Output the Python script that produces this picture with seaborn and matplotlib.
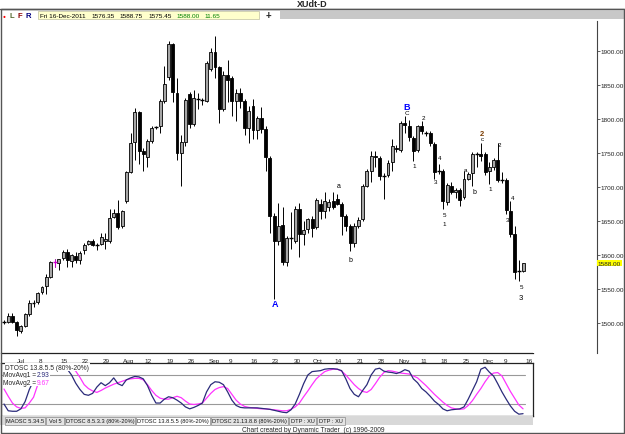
import numpy as np
import pandas as pd
import matplotlib
matplotlib.use('Agg')
import matplotlib.pyplot as plt
import seaborn as sns
from matplotlib.patches import Rectangle
from matplotlib.lines import Line2D

# DATA - daily OHLC, XU (late Jun .. 16 Dec 2011)
opens = [1502, 1502, 1511, 1502, 1488, 1496, 1513, 1530, 1531, 1546, 1554, 1568, 1589, 1588, 1595, 1605,
         1591, 1599, 1593, 1608, 1616, 1621, 1615, 1616, 1620, 1620, 1656, 1662, 1642, 1679, 1722, 1766,
         1810, 1753, 1744, 1767, 1788, 1789, 1826, 1862, 1910, 1838, 1750, 1766, 1837, 1792, 1829, 1828,
         1827, 1874, 1898, 1876, 1815, 1865, 1861, 1826, 1838, 1827, 1787, 1819, 1784, 1802, 1785, 1742,
         1658, 1620, 1644, 1589, 1625, 1620, 1668, 1631, 1638, 1653, 1641, 1675, 1664, 1670, 1680, 1683,
         1675, 1658, 1643, 1618, 1643, 1653, 1702, 1724, 1746, 1742, 1716, 1717, 1737, 1758, 1755, 1794,
         1790, 1772, 1754, 1790, 1780, 1779, 1763, 1724, 1724, 1678, 1702, 1692, 1696, 1685, 1712, 1721,
         1748, 1748, 1749, 1723, 1729, 1740, 1711, 1711, 1665, 1631, 1576, 1576.35]
highs = [1505, 1514, 1514, 1503, 1497, 1515, 1534, 1534, 1546, 1555, 1572, 1591, 1594, 1594, 1608, 1609,
         1602, 1604, 1606, 1618, 1622, 1624, 1618, 1633, 1632, 1668, 1668, 1681, 1666, 1724, 1780, 1816,
         1812, 1758, 1771, 1790, 1790, 1829, 1878, 1915, 1912, 1860, 1776, 1831, 1840, 1843, 1838, 1831,
         1885, 1904, 1922, 1878, 1870, 1887, 1863, 1844, 1846, 1829, 1819, 1830, 1804, 1817, 1790, 1746,
         1662, 1677, 1670, 1628, 1663, 1672, 1677, 1650, 1655, 1658, 1684, 1682, 1692, 1682, 1692, 1690,
         1678, 1660, 1645, 1647, 1656, 1705, 1727, 1753, 1753, 1745, 1720, 1740, 1770, 1762, 1797, 1805,
         1798, 1775, 1791, 1797, 1782, 1782, 1766, 1734, 1726, 1706, 1707, 1698, 1698, 1724, 1722, 1751,
         1751, 1764, 1752, 1737, 1742, 1764, 1722, 1713, 1680, 1643, 1593, 1588.75]
lows = [1499, 1500, 1500, 1481, 1486, 1494, 1511, 1524, 1528, 1543, 1543, 1566, 1582, 1578, 1593, 1583,
        1583, 1588, 1587, 1602, 1614, 1613, 1608, 1614, 1609, 1618, 1654, 1638, 1640, 1677, 1720, 1739,
        1734, 1724, 1729, 1765, 1785, 1780, 1824, 1858, 1825, 1740, 1702, 1760, 1787, 1790, 1814, 1820,
        1825, 1870, 1861, 1794, 1812, 1825, 1804, 1797, 1816, 1776, 1764, 1770, 1770, 1780, 1723, 1633,
        1535, 1615, 1585, 1584, 1609, 1618, 1597, 1614, 1633, 1627, 1638, 1653, 1655, 1665, 1668, 1673,
        1630, 1636, 1606, 1612, 1640, 1650, 1700, 1707, 1730, 1710, 1682, 1714, 1724, 1752, 1752, 1780,
        1767, 1738, 1752, 1778, 1775, 1760, 1712, 1719, 1668, 1673, 1690, 1684, 1672, 1683, 1710, 1702,
        1730, 1738, 1718, 1705, 1725, 1708, 1706, 1660, 1627, 1565, 1562, 1575.45]
closes = [1502, 1511, 1502, 1489, 1496, 1513, 1529, 1530, 1544, 1553, 1567, 1589, 1589, 1594, 1605, 1592,
          1600, 1593, 1603, 1615, 1621, 1615, 1615, 1627, 1624, 1654, 1662, 1641, 1664, 1722, 1764, 1810,
          1753, 1748, 1767, 1787, 1788, 1826, 1852, 1910, 1839, 1750, 1766, 1828, 1792, 1831, 1829, 1828,
          1883, 1898, 1877, 1815, 1865, 1858, 1827, 1838, 1827, 1787, 1812, 1784, 1802, 1786, 1744, 1658,
          1620, 1642, 1589, 1625, 1625, 1668, 1631, 1637, 1653, 1640, 1681, 1664, 1680, 1678, 1670, 1675,
          1658, 1643, 1618, 1643, 1651, 1702, 1724, 1746, 1744, 1716, 1716, 1736, 1760, 1756, 1794, 1791,
          1773, 1753, 1789, 1782, 1780, 1764, 1722, 1724, 1680, 1703, 1692, 1696, 1681, 1712, 1719, 1749,
          1748, 1746, 1722, 1729, 1740, 1711, 1711, 1666, 1631, 1575, 1577, 1588.00]
marked_bar = 12  # magenta cross in the chart

# DTOSC 13.8.5.5 oscillator (fast line / slow line), in %
dtosc_fast = [20, 6, 5, 5, 10, 25, 50, 68, 82, 92, 98, 100, 102, 103, 102, 92, 80, 63, 50, 40, 38, 42, 55, 64,
              58, 64, 74, 62, 58, 70, 74, 77, 76, 72, 58, 38, 22, 22, 30, 35, 33, 28, 22, 14, 10, 13, 17, 22,
              45, 60, 66, 65, 60, 45, 28, 17, 13, 12, 12, 12, 12, 11, 10, 9, 7, 5, 3, 2, 8, 20, 40, 62,
              80, 87, 88, 89, 92, 93, 93, 92, 89, 72, 52, 40, 35, 48, 60, 80, 92, 94, 88, 86, 85, 83, 86, 91,
              88, 72, 64, 52, 45, 36, 26, 19, 10, 6, 8, 9, 10, 14, 30, 48, 66, 92, 96, 86, 78, 62, 45, 30,
              16, 5, -1, 0]
dtosc_slow = [51, 36, 22, 14, 11, 12, 22, 34, 60, 75, 85, 93, 98, 100, 100, 98, 94, 88, 75, 60, 52, 47, 44, 48,
              53, 57, 61, 64, 67, 70, 72, 73, 73, 70, 60, 48, 38, 32, 30, 30, 33, 36, 33, 26, 20, 19, 20, 22,
              32, 42, 50, 54, 56, 52, 40, 28, 20, 15, 13, 12, 11, 10, 10, 9, 8, 7, 6, 6, 9, 14, 22, 35,
              47, 60, 72, 80, 87, 90, 92, 92, 88, 80, 70, 60, 52, 46, 44, 50, 62, 75, 85, 89, 88, 86, 84, 83,
              82, 78, 74, 66, 58, 49, 40, 32, 24, 17, 12, 10, 9, 10, 17, 27, 40, 52, 66, 78, 84, 85, 78, 62,
              46, 32, 18, 10]

# x axis ticks (bar positions) and labels
tick_pos = [3.1, 8.3, 13.3, 18.5, 23.5, 28.2, 33.2, 38.4, 43.6, 48.6, 53.3, 58.5, 63.5, 68.7, 73.2, 78.4,
            83.6, 88.6, 93.4, 98.6, 103.5, 108.8, 113.3, 118.5, 123.5]
tick_labels = ['Jul', '8', '15', '22', '29', 'Aug', '12', '19', '26', 'Sep', '9', '16', '23', '30', 'Oct',
               '14', '21', '28', 'Nov', '11', '18', '25', 'Dec', '9', '16']
price_ticks = [1500, 1550, 1600, 1650, 1700, 1750, 1800, 1850, 1900]

# wave labels: (bar, price, text, colour, size, bold)
wave_labels = [
    (64.2, 1528, 'A', '#0000ff', 6.5, True),
    (95.3, 1819, 'B', '#0000ff', 6.5, True),
    (95.4, 1810, 'C', '#000000', 4.5, False),
    (79.4, 1702, 'a', '#000000', 5, False),
    (82.2, 1593, 'b', '#000000', 5, False),
    (97.2, 1732, '1', '#000000', 4.5, False),
    (99.3, 1802, '2', '#000000', 4.5, False),
    (102.3, 1708, '3', '#000000', 4.5, False),
    (103.3, 1743, '4', '#000000', 4.5, False),
    (104.3, 1659, '5', '#000000', 4.5, False),
    (104.3, 1647, '1', '#000000', 4.5, False),
    (109.4, 1726, 'a', '#000000', 4.5, False),
    (111.4, 1694, 'b', '#000000', 5, False),
    (113.3, 1779, '2', '#7a3b00', 5.5, True),
    (113.3, 1771, 'c', '#000000', 4.5, False),
    (115.3, 1698, '1', '#000000', 4.5, False),
    (117.4, 1762, '2', '#000000', 4.5, False),
    (119.4, 1652, '3', '#000000', 4.5, False),
    (120.5, 1684, '4', '#000000', 4.5, False),
    (122.5, 1554, '5', '#000000', 4.5, False),
    (122.5, 1538, '3', '#000000', 5.5, False),
]

tabs = ['MAOSC 5.34.5', 'Vol 5', 'DTOSC 8.5.3.3 (80%-20%)', 'DTOSC 13.8.5.5 (80%-20%)',
        'DTOSC 21.13.8.8 (80%-20%)', 'DTP : XU', 'DTP : XU']
tab_edges = [5, 46, 65, 136, 211, 289, 317, 346]

# LAYOUT (pixels)
W, H = 625, 435
BAR0, BAR_PX = 4, 4.22
FONT = 'Liberation Sans'

sns.set_style('white')
plt.rcParams['font.family'] = [FONT, 'DejaVu Sans']

fig = plt.figure(figsize=(W / 100, H / 100), dpi=100)


def fx(x):
    return x / W


def fy(y):
    return 1 - y / H


def px_axes(x0, y0, x1, y1):
    return fig.add_axes([fx(x0), fy(y1), (x1 - x0) / W, (y1 - y0) / H])


def px_to_bar(x):
    return (x - BAR0) / BAR_PX


def py_to_price(y):
    return 1800 - (y - 120) / 0.68


df = pd.DataFrame({'open': opens, 'high': highs, 'low': lows, 'close': closes})
df['bar'] = np.arange(len(df))

# ---- header ----
fig.text(fx(312), fy(4.5), 'XUdt-D', ha='center', va='center', fontsize=6.5, fontweight='bold')
fig.add_artist(Line2D([0, 1], [fy(9.5), fy(9.5)], color='#555555', lw=1))
fig.add_artist(Rectangle((fx(280), fy(19.5)), fx(624) - fx(280), fy(12) - fy(19.5), color='#c8c8c8', lw=0))
fig.add_artist(Rectangle((fx(38), fy(20)), fx(259) - fx(38), fy(12) - fy(20), facecolor='#ffffcc',
                         edgecolor='#c0c0a0', lw=0.5))
fig.text(fx(4), fy(16), '\u25cf', color='#ff0000', fontsize=3.5, ha='center', va='center')
for x, t, c in [(12, 'L', '#556b2f'), (20, 'F', '#8b0000'), (28, 'R', '#000080')]:
    fig.text(fx(x), fy(16), t, color=c, fontsize=5.5, fontweight='bold', ha='center', va='center')
for x, t, c in [(40, 'Fri 16-Dec-2011', 'black'), (91, '1576.35', 'black'), (119, '1588.75', 'black'),
                (148, '1575.45', 'black'), (176, '1588.00', '#008000'), (204, '11.65', '#008000')]:
    fig.text(fx(x), fy(16), t, color=c, fontsize=4.6, ha='left', va='center')
fig.text(fx(268), fy(16), '+', fontsize=7, fontweight='bold', ha='center', va='center')

# ---- price panel ----
ax = px_axes(1, 22, 533, 354)
ax.set_xlim(px_to_bar(1), px_to_bar(533))
ax.set_ylim(py_to_price(354), py_to_price(22))

up = df[df['close'] - df['open'] >= 2]
down = df[df['open'] - df['close'] >= 2]
flat = df[(df['close'] - df['open']).abs() < 2]

ax.vlines(df['bar'], df['low'], df['high'], color='black', lw=0.7, zorder=2)
ax.bar(up['bar'], up['close'] - up['open'], bottom=up['open'], width=0.7,
       color='#a6a6a6', edgecolor='black', lw=0.6, zorder=3)
ax.bar(down['bar'], down['open'] - down['close'], bottom=down['close'], width=0.7,
       color='black', edgecolor='black', lw=0.6, zorder=3)
flat_col = ['#cc00cc' if b == marked_bar else 'black' for b in flat['bar']]
ax.hlines(flat['close'], flat['bar'] - 0.45, flat['bar'] + 0.45, colors=flat_col, lw=1.0, zorder=3)
ax.vlines([marked_bar], [df['low'][marked_bar]], [df['high'][marked_bar]], color='#cc00cc', lw=0.8, zorder=4)

for b, p, t, c, s, bold in wave_labels:
    ax.text(b, p, t, color=c, fontsize=s, fontweight='bold' if bold else 'normal',
            ha='center', va='center', zorder=5)

for s in ['top', 'right', 'left']:
    ax.spines[s].set_visible(False)
ax.spines['bottom'].set_color('#222222')
ax.spines['bottom'].set_linewidth(0.9)
ax.set_yticks([])
ax.set_xticks(tick_pos)
ax.set_xticklabels(tick_labels, ha='left')
ax.tick_params(axis='x', direction='out', length=3, width=0.6, pad=0.5, labelsize=4.6, colors='#222222')

# right price scale
axr = px_axes(533, 22, 597, 354)
axr.set_ylim(ax.get_ylim())
axr.set_xlim(0, 1)
for s in ['top', 'bottom', 'left']:
    axr.spines[s].set_visible(False)
axr.spines['right'].set_color('#444444')
axr.spines['right'].set_linewidth(0.8)
axr.set_xticks([])
axr.yaxis.tick_right()
axr.set_yticks(price_ticks)
axr.set_yticklabels([f'{p:.2f}' for p in price_ticks])
axr.tick_params(axis='y', direction='out', length=2, width=0.5, pad=0.5, labelsize=4.6, colors='#222222')
axr.text(1.01, closes[-1], f'{closes[-1]:.2f}', transform=axr.get_yaxis_transform(), fontsize=4.6,
         ha='left', va='center', bbox=dict(facecolor='#ffff00', edgecolor='none', pad=0.6))

# ---- oscillator panel ----
axo = px_axes(1, 364, 533, 417)
axo.set_xlim(ax.get_xlim())
axo.set_ylim(-4.8, 104.8)
xspan = ax.get_xlim()[1] - ax.get_xlim()[0]
line_end = (px_to_bar(525) - ax.get_xlim()[0]) / xspan
axo.axhline(80, color='#999999', lw=0.8, xmax=line_end, zorder=1)
axo.axhline(20, color='#999999', lw=0.8, xmax=line_end, zorder=1)
osc = pd.DataFrame({'bar': df['bar'], 'fast': dtosc_fast, 'slow': dtosc_slow})
sns.lineplot(data=osc, x='bar', y='slow', color='#ff33ff', lw=0.9, ax=axo, zorder=2)
sns.lineplot(data=osc, x='bar', y='fast', color='#2b2b7a', lw=0.9, ax=axo, zorder=3)
axo.set_xlabel('')
axo.set_ylabel('')
axo.set_xticks([])
axo.set_yticks([])
for s in axo.spines.values():
    s.set_color('#222222')
    s.set_linewidth(0.9)

wbox = dict(facecolor='white', edgecolor='none', pad=0.3)
axo.text(0.008, 0.92, 'DTOSC 13.8.5.5 (80%-20%)', transform=axo.transAxes, fontsize=4.8,
         ha='left', va='center', bbox=wbox, zorder=6)
axo.text(0.004, 0.78, 'MovAvg1 = ', transform=axo.transAxes, fontsize=4.8, ha='left', va='center',
         bbox=wbox, zorder=6)
axo.text(0.068, 0.78, '2.93', transform=axo.transAxes, fontsize=4.8, color='#2b2b7a', ha='left',
         va='center', bbox=wbox, zorder=6)
axo.text(0.004, 0.64, 'MovAvg2 = ', transform=axo.transAxes, fontsize=4.8, ha='left', va='center',
         bbox=wbox, zorder=6)
axo.text(0.068, 0.64, '9.67', transform=axo.transAxes, fontsize=4.8, color='#ff33ff', ha='left',
         va='center', bbox=wbox, zorder=6)

# ---- tab strip and footer ----
fig.add_artist(Rectangle((fx(0), fy(426)), fx(533), fy(417) - fy(426), color='#d8d8d8', lw=0))
for i, t in enumerate(tabs):
    x0, x1 = tab_edges[i], tab_edges[i + 1]
    fig.add_artist(Rectangle((fx(x0), fy(425.5)), fx(x1 - 1) - fx(x0), fy(418) - fy(425.5),
                             facecolor='white' if i == 3 else '#e4e4e4', edgecolor='#8a8a8a', lw=0.5))
    fig.text(fx((x0 + x1 - 1) / 2), fy(421.8), t, fontsize=4.1, ha='center', va='center', color='#111111')
fig.text(fx(313), fy(430.5), 'Chart created by Dynamic Trader  (c) 1996-2009', fontsize=4.8,
         ha='center', va='center')

# frame
fig.add_artist(Rectangle((fx(0.5), fy(434)), fx(623.5) - fx(0.5), fy(9.5) - fy(434),
                         fill=False, edgecolor='#555555', lw=1))

fig.savefig('out.png', dpi=100)
